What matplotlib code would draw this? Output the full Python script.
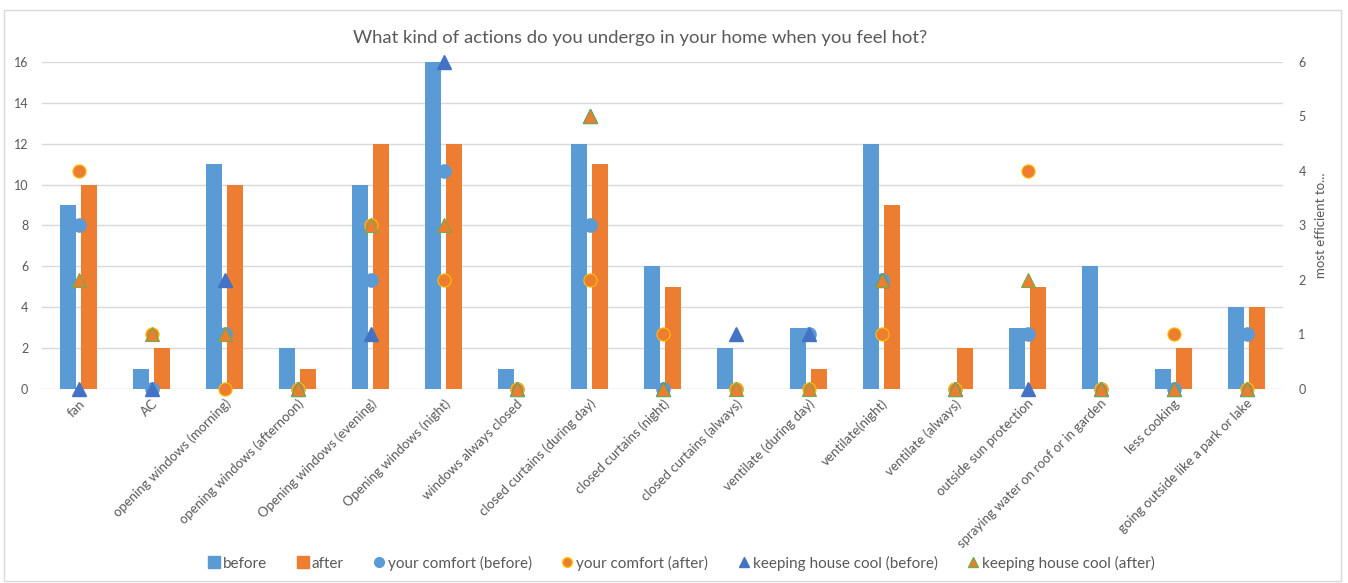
import numpy as np
import matplotlib
matplotlib.use("Agg")
import matplotlib.pyplot as plt
from matplotlib.lines import Line2D
from matplotlib.patches import Rectangle

plt.rcParams['font.family'] = ['Lato', 'DejaVu Sans']

categories = [
    "fan", "AC", "opening windows (morning)", "opening windows (afternoon)",
    "Opening windows (evening)", "Opening windows (night)", "windows always closed",
    "closed curtains (during day)", "closed curtains (night)", "closed curtains (always)",
    "ventilate (during day)", "ventilate(night)", "ventilate (always)",
    "outside sun protection", "spraying water on roof or in garden", "less cooking",
    "going outside like a park or lake",
]
before = [9, 1, 11, 2, 10, 16, 1, 12, 6, 2, 3, 12, 0, 3, 6, 1, 4]
after = [10, 2, 10, 1, 12, 12, 0, 11, 5, 0, 1, 9, 2, 5, 0, 2, 4]
comfort_before = [3, 0, 1, 0, 2, 4, 0, 3, 0, 0, 1, 2, 0, 1, 0, 0, 1]
comfort_after = [4, 1, 0, 0, 3, 2, 0, 2, 1, 0, 0, 1, 0, 4, 0, 1, 0]
cool_before = [0, 0, 2, 0, 1, 6, 0, 5, 0, 1, 1, 2, 0, 0, 0, 0, 0]
cool_after = [2, 1, 1, 0, 3, 3, 0, 5, 0, 0, 0, 2, 0, 2, 0, 0, 0]

BLUE = "#5B9BD5"
ORANGE = "#ED7D31"
DARKBLUE = "#4472C4"
GOLD = "#FFC000"
GREEN = "#70AD47"
GRID = "#D9D9D9"
TEXT = "#595959"

fig = plt.figure(figsize=(13.48, 5.83), dpi=100)
fig.patches.append(Rectangle((0.003, 0.004), 0.992, 0.978, transform=fig.transFigure,
                             fill=False, edgecolor=GRID, linewidth=1.0))

ax = fig.add_axes([0.0312, 0.3328, 0.9206, 0.5609])
x = np.arange(len(categories))
w = 0.22
ax.bar(x - 0.145, before, width=w, color=BLUE, zorder=2)
ax.bar(x + 0.145, after, width=w, color=ORANGE, zorder=2)
ax.set_xlim(-0.5, len(categories) - 0.5)
ax.set_ylim(0, 16)
ax.set_yticks(range(0, 17, 2))
ax.grid(axis='y', color=GRID, linewidth=1.0, zorder=0)
ax.set_axisbelow(True)
for s in ax.spines.values():
    s.set_visible(False)
ax.tick_params(axis='both', length=0, colors=TEXT, labelsize=9)
ax.tick_params(axis='y', pad=10)
ax.set_xticks(x)
ax.set_xticklabels(categories, rotation=45, ha='right', rotation_mode='anchor',
                   fontsize=9.5, color=TEXT)
ax.tick_params(axis='x', pad=6)

ax2 = ax.twinx()
ax2.set_ylim(0, 6)
ax2.set_yticks(range(0, 7))
for s in ax2.spines.values():
    s.set_visible(False)
ax2.tick_params(axis='y', length=0, colors=TEXT, labelsize=9, pad=11)
ax2.set_ylabel("most efficient to...", color=TEXT, fontsize=9.5, labelpad=7)

ms = 9.5
ax2.plot(x, comfort_before, 'o', color=BLUE, markersize=ms, markeredgecolor=BLUE, zorder=3,
         clip_on=False)
ax2.plot(x, comfort_after, 'o', color=ORANGE, markersize=ms, markeredgecolor=GOLD,
         markeredgewidth=0.8, zorder=4, clip_on=False)
ax2.plot(x, cool_before, '^', color=DARKBLUE, markersize=ms, markeredgecolor=DARKBLUE,
         zorder=5, clip_on=False)
ax2.plot(x, cool_after, '^', color=ORANGE, markersize=ms, markeredgecolor=GREEN,
         markeredgewidth=0.8, zorder=6, clip_on=False)

fig.text(0.475, 0.935, "What kind of actions do you undergo in your home when you feel hot?",
         ha='center', va='center', fontsize=13.3, color=TEXT)

handles = [
    Line2D([], [], marker='s', linestyle='none', color=BLUE, markersize=8),
    Line2D([], [], marker='s', linestyle='none', color=ORANGE, markersize=8),
    Line2D([], [], marker='o', linestyle='none', color=BLUE, markersize=7),
    Line2D([], [], marker='o', linestyle='none', color=ORANGE, markeredgecolor=GOLD, markersize=7),
    Line2D([], [], marker='^', linestyle='none', color=DARKBLUE, markersize=7),
    Line2D([], [], marker='^', linestyle='none', color=ORANGE, markeredgecolor=GREEN, markersize=7),
]
labels = ["before", "after", "your comfort (before)", "your comfort (after)",
          "keeping house cool (before)", "keeping house cool (after)"]
fig.legend(handles, labels, loc='center', bbox_to_anchor=(0.505, 0.034), ncol=6,
           frameon=False, fontsize=11, handletextpad=0.1, columnspacing=1.8,
           handlelength=1.0, labelcolor=TEXT)

fig.savefig("out.png", dpi=100)
